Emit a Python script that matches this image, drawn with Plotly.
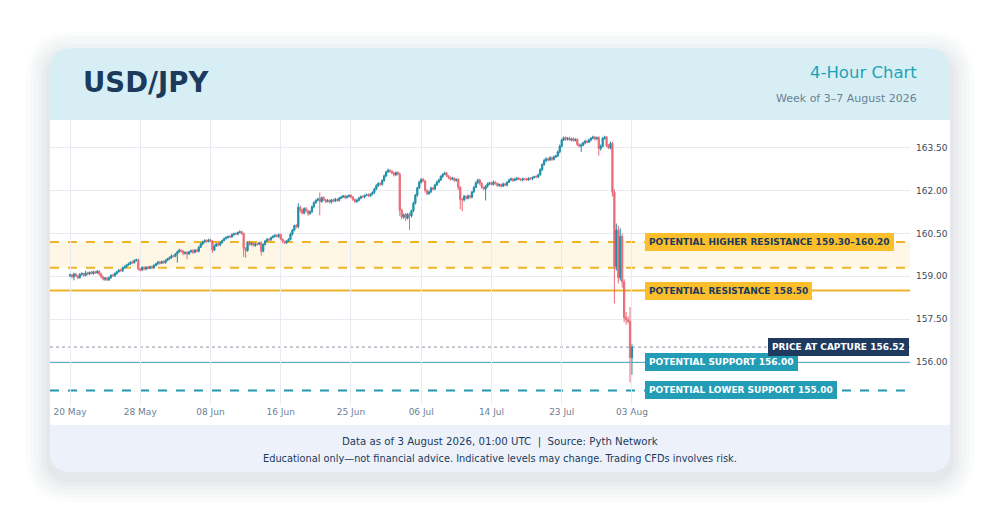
import plotly.graph_objects as go

# ---- data ----
tick_pos = [0, 36, 72, 108, 144, 180, 216, 252, 288]
tick_labels = ["20 May", "28 May", "08 Jun", "16 Jun", "25 Jun", "06 Jul", "14 Jul", "23 Jul", "03 Aug"]

first_open = 159.02
closes = [
    159.05, 158.98, 159.08, 159.02, 158.95, 159.06, 159.10, 159.03, 159.12, 159.08,
    159.14, 159.10, 159.16, 159.12, 159.18, 159.08, 158.98, 158.90, 158.94, 158.88,
    158.96, 159.04, 159.02, 159.10, 159.16, 159.22, 159.20, 159.30, 159.34, 159.40,
    159.44, 159.50, 159.48, 159.56, 159.58, 159.26, 159.22, 159.30, 159.26, 159.32,
    159.28, 159.34, 159.30, 159.38, 159.44, 159.50, 159.46, 159.52, 159.48, 159.56,
    159.62, 159.66, 159.72, 159.70, 159.78, 159.86, 159.92, 159.88, 159.80, 159.84,
    159.78, 159.86, 159.90, 159.84, 159.92, 159.88, 160.02, 160.14, 160.20, 160.26,
    160.22, 160.28, 160.24, 159.92, 160.06, 160.14, 160.10, 160.18, 160.26, 160.32,
    160.36, 160.40, 160.38, 160.46, 160.50, 160.48, 160.54, 160.56, 160.50, 159.98,
    159.90, 160.20, 160.12, 160.16, 160.08, 160.14, 160.12, 160.18, 159.88, 160.12,
    160.24, 160.30, 160.28, 160.36, 160.40, 160.44, 160.40, 160.46, 160.30, 160.22,
    160.18, 160.24, 160.30, 160.48, 160.62, 160.78, 160.74, 161.42, 161.32, 161.22,
    161.38, 161.30, 161.20, 161.26, 161.44, 161.58, 161.66, 161.72, 161.62, 161.76,
    161.68, 161.62, 161.66, 161.60, 161.68, 161.64, 161.70, 161.66, 161.74, 161.78,
    161.82, 161.76, 161.80, 161.84, 161.78, 161.70, 161.62, 161.66, 161.74, 161.80,
    161.78, 161.84, 161.86, 161.82, 161.88, 161.94, 162.06, 162.18, 162.26, 162.22,
    162.36, 162.52, 162.66, 162.72, 162.68, 162.62, 162.56, 162.64, 162.58, 161.32,
    161.08, 161.16, 161.04, 161.18, 161.12, 161.30, 161.56, 161.84, 162.10, 162.30,
    162.40, 162.34, 162.02, 161.90, 161.96, 162.10, 162.06, 162.20, 162.30, 162.38,
    162.50, 162.58, 162.62, 162.52, 162.46, 162.40, 162.44, 162.36, 162.40, 162.12,
    161.70, 161.68, 161.80, 161.74, 161.82, 161.78, 161.96, 162.12, 162.28, 162.38,
    162.26, 162.12, 162.06, 162.16, 162.24, 162.28, 162.22, 162.30, 162.26, 162.18,
    162.22, 162.16, 162.24, 162.20, 162.30, 162.38, 162.42, 162.36, 162.40, 162.44,
    162.40, 162.38, 162.42, 162.40, 162.38, 162.44, 162.42, 162.46, 162.50, 162.48,
    162.56, 162.74, 162.92, 163.06, 163.12, 163.08, 163.16, 163.10, 163.18, 163.22,
    163.36, 163.56, 163.78, 163.86, 163.80, 163.84, 163.78, 163.82, 163.76, 163.80,
    163.62, 163.56, 163.60, 163.68, 163.74, 163.70, 163.78, 163.84, 163.88, 163.82,
    163.86, 163.48, 163.56, 163.84, 163.88, 163.58, 163.50, 163.66,
]
# wick lengths in pips above / below the candle body
wick_up = [
    4, 3, 5, 4, 3, 6, 4, 3, 8, 4,   3, 5, 4, 3, 4, 3, 5, 4, 3, 4,
    4, 3, 5, 4, 3, 4, 5, 3, 4, 3,   4, 3, 5, 3, 4, 4, 3, 5, 4, 3,
    4, 3, 4, 5, 3, 4, 4, 3, 5, 4,   3, 4, 5, 3, 4, 4, 5, 3, 4, 3,
    4, 3, 4, 5, 3, 4, 4, 3, 5, 4,   3, 4, 4, 3, 5, 3, 4, 4, 3, 4,
    4, 3, 5, 4, 3, 4, 3, 5, 4, 3,   4, 3, 5, 4, 3, 4, 4, 3, 5, 4,
    3, 4, 4, 3, 5, 4, 3, 4, 4, 3,   4, 3, 4, 5, 4, 3, 6, 14, 6, 5,
    4, 5, 3, 6, 4, 5, 4, 3, 22, 4,  4, 3, 5, 4, 3, 4, 5, 3, 4, 4,
    3, 4, 5, 3, 4, 4, 3, 5, 4, 3,   4, 3, 4, 5, 3, 4, 4, 5, 4, 3,
    4, 5, 4, 6, 3, 4, 5, 3, 4, 6,   5, 4, 6, 4, 5, 4, 6, 5, 4, 5,
    4, 5, 4, 3, 5, 4, 3, 4, 5, 4,   4, 3, 5, 4, 3, 4, 5, 4, 3, 5,
    5, 4, 6, 4, 5, 4, 3, 4, 5, 4,   4, 5, 3, 4, 5, 3, 4, 6, 4, 3,
    4, 3, 5, 4, 3, 4, 4, 3, 5, 4,   3, 4, 4, 3, 5, 3, 4, 4, 3, 4,
    4, 5, 4, 6, 5, 4, 5, 4, 6, 4,   5, 6, 5, 4, 5, 4, 6, 4, 5, 4,
    5, 4, 6, 4, 5, 4, 5, 4, 5, 4,   4, 5, 6, 4, 5, 4, 5, 6,
]
wick_dn = [
    4, 5, 12, 4, 5, 3, 4, 5, 3, 4,  4, 3, 5, 4, 3, 6, 5, 4, 6, 5,
    4, 5, 3, 4, 5, 3, 4, 5, 3, 4,   3, 4, 5, 3, 4, 6, 5, 3, 4, 5,
    4, 3, 5, 4, 3, 4, 5, 3, 4, 4,   3, 4, 5, 4, 3, 30, 4, 5, 6, 4,
    18, 3, 4, 5, 3, 4, 4, 3, 5, 4,  4, 3, 5, 10, 4, 3, 5, 4, 3, 4,
    3, 4, 4, 3, 5, 3, 4, 3, 5, 30,  25, 4, 5, 4, 3, 5, 4, 3, 15, 4,
    4, 3, 5, 4, 3, 4, 4, 5, 4, 6,   5, 4, 3, 4, 5, 4, 6, 5, 8, 6,
    5, 6, 8, 5, 4, 5, 4, 3, 48, 4,  4, 5, 3, 4, 5, 3, 4, 5, 4, 3,
    4, 5, 3, 4, 5, 6, 4, 5, 3, 4,   4, 5, 3, 4, 3, 4, 5, 4, 5, 4,
    4, 5, 4, 3, 5, 4, 6, 5, 4, 20,  8, 6, 10, 5, 50, 6, 5, 4, 5, 4,
    5, 4, 8, 6, 5, 4, 5, 4, 3, 4,   4, 5, 3, 4, 5, 4, 3, 5, 4, 10,
    35, 40, 6, 5, 4, 6, 5, 4, 3, 4, 6, 5, 4, 40, 5, 4, 3, 4, 5, 4,
    4, 5, 3, 4, 5, 3, 4, 5, 3, 4,   3, 4, 5, 3, 4, 3, 4, 5, 3, 4,
    4, 3, 5, 4, 6, 5, 4, 5, 4, 3,   4, 5, 4, 3, 5, 4, 3, 5, 4, 3,
    5, 4, 20, 4, 5, 4, 3, 5, 4, 6,  5, 25, 8, 4, 5, 6, 4, 5,
]
# the sell-off candles at the end, full OHLC
crash_open = [163.66, 161.95, 159.35, 160.62, 158.95, 160.40, 158.80, 157.55, 157.48, 157.42, 156.15]
crash_high = [163.72, 162.05, 160.85, 160.78, 160.68, 160.50, 158.90, 157.75, 157.60, 157.92, 156.62]
crash_low = [161.80, 158.05, 159.20, 158.75, 158.85, 158.60, 157.40, 157.30, 157.35, 155.28, 155.55]
crash_close = [161.95, 159.35, 160.62, 158.95, 160.40, 158.80, 157.55, 157.48, 157.42, 156.15, 156.52]

higher_res = (159.30, 160.20)
resistance = 158.50
support = 156.00
lower_support = 155.00
capture_price = 156.52

y_ticks = [156.0, 157.5, 159.0, 160.5, 162.0, 163.5]

# ---- build candles ----
opens = [first_open] + closes[:-1]
highs = [max(o, c) + u / 100 for o, c, u in zip(opens, closes, wick_up)]
lows = [min(o, c) - d / 100 for o, c, d in zip(opens, closes, wick_dn)]
opens += crash_open
highs += crash_high
lows += crash_low
closes_all = closes + crash_close
idx = list(range(len(closes_all)))

NAVY = "#1b3a5c"
GOLD = "#f0b429"
TEAL = "#2596b0"
UP = "#1f8fa8"
DOWN = "#ea6b78"
FONT = "DejaVu Sans"

# screen pixel -> paper helpers (plot area sits at 50..910 x 120..405 on screen)
def px(x):
    return (x - 50) / 860

def py(y):
    return (405 - y) / 285

def rrect(x0, y0, x1, y1, rt, rb):
    def P(x, y):
        return f"{px(x):.5f},{py(y):.5f}"
    d = f"M {P(x0 + rt, y0)} L {P(x1 - rt, y0)} Q {P(x1, y0)} {P(x1, y0 + rt)} "
    d += f"L {P(x1, y1 - rb)} Q {P(x1, y1)} {P(x1 - rb, y1)} "
    d += f"L {P(x0 + rb, y1)} Q {P(x0, y1)} {P(x0, y1 - rb)} "
    d += f"L {P(x0, y0 + rt)} Q {P(x0, y0)} {P(x0 + rt, y0)} Z"
    return d

fig = go.Figure()
fig.add_trace(go.Candlestick(
    x=idx, open=opens, high=highs, low=lows, close=closes_all,
    increasing=dict(line=dict(color=UP, width=1), fillcolor=UP),
    decreasing=dict(line=dict(color=DOWN, width=1), fillcolor=DOWN),
    whiskerwidth=0, hoverinfo="skip", showlegend=False,
))

shapes = []
# card shadow
for i, a in enumerate([0.014, 0.016, 0.018, 0.02, 0.022, 0.025]):
    g = 24 - i * 4
    shapes.append(dict(type="path", xref="paper", yref="paper", layer="below",
                       path=rrect(50 - g, 48 - g + 8, 950 + g, 472 + g + 6, 22 + g, 22 + g),
                       fillcolor=f"rgba(30,50,80,{a})", line=dict(width=0)))
shapes.append(dict(type="path", xref="paper", yref="paper", layer="below",
                   path=rrect(50, 48, 950, 472, 22, 22), fillcolor="white", line=dict(width=0)))
shapes.append(dict(type="path", xref="paper", yref="paper", layer="below",
                   path=rrect(50, 48, 950, 120, 22, 0), fillcolor="#d7eff4", line=dict(width=0)))
shapes.append(dict(type="path", xref="paper", yref="paper", layer="below",
                   path=rrect(50, 425, 950, 472, 0, 22), fillcolor="#edf2fa", line=dict(width=0)))
# levels
shapes.append(dict(type="rect", xref="paper", yref="y", x0=0, x1=1, y0=higher_res[0], y1=higher_res[1],
                   fillcolor="rgba(246,196,60,0.13)", line=dict(width=0), layer="below"))
for lv in higher_res:
    shapes.append(dict(type="line", xref="paper", yref="y", x0=0, x1=1, y0=lv, y1=lv,
                       line=dict(color=GOLD, width=2, dash="dash"), layer="below"))
shapes.append(dict(type="line", xref="paper", yref="y", x0=0, x1=1, y0=resistance, y1=resistance,
                   line=dict(color=GOLD, width=2), layer="below"))
shapes.append(dict(type="line", xref="paper", yref="y", x0=0, x1=1, y0=support, y1=support,
                   line=dict(color=TEAL, width=1.5), layer="below"))
shapes.append(dict(type="line", xref="paper", yref="y", x0=0, x1=1, y0=lower_support, y1=lower_support,
                   line=dict(color=TEAL, width=2, dash="dash"), layer="below"))
shapes.append(dict(type="line", xref="paper", yref="y", x0=0, x1=1, y0=capture_price, y1=capture_price,
                   line=dict(color="#8a96a8", width=1, dash="dot"), layer="below"))

LBL_X = 294.5
annotations = []
def level_label(text, y, bg, fg, x=LBL_X, anchor="left"):
    annotations.append(dict(x=x, y=y, xref="x", yref="y", text=f"<b>{text}</b>", showarrow=False,
                            xanchor=anchor, yanchor="middle", bgcolor=bg, bordercolor=bg, borderpad=3,
                            font=dict(family=FONT, size=9, color=fg)))

level_label(f"POTENTIAL HIGHER RESISTANCE {higher_res[0]:.2f}–{higher_res[1]:.2f}", higher_res[1], "#fbbf2c", NAVY)
level_label(f"POTENTIAL RESISTANCE {resistance:.2f}", resistance, "#fbbf2c", NAVY)
level_label(f"POTENTIAL SUPPORT {support:.2f}", support, "#239db6", "white")
level_label(f"POTENTIAL LOWER SUPPORT {lower_support:.2f}", lower_support, "#239db6", "white")
level_label(f"PRICE AT CAPTURE {capture_price:.2f}", capture_price, "#1e3a5f", "white", x=430, anchor="right")

# header and footer texts
annotations += [
    dict(x=px(81), y=py(82), xref="paper", yref="paper", text="<b>USD/JPY</b>", showarrow=False,
         xanchor="left", yanchor="middle", font=dict(family=FONT, size=27.5, color=NAVY)),
    dict(x=px(919), y=py(73), xref="paper", yref="paper", text="4-Hour Chart", showarrow=False,
         xanchor="right", yanchor="middle", font=dict(family=FONT, size=16.5, color="#1aa3b8")),
    dict(x=px(919), y=py(98), xref="paper", yref="paper", text="Week of 3–7 August 2026", showarrow=False,
         xanchor="right", yanchor="middle", font=dict(family=FONT, size=11, color="#6c7f95")),
    dict(x=0.5 * (px(50) + px(950)), y=py(442), xref="paper", yref="paper",
         text="Data as of 3 August 2026, 01:00 UTC  |  Source: Pyth Network", showarrow=False,
         xanchor="center", yanchor="middle", font=dict(family=FONT, size=10.2, color=NAVY)),
    dict(x=0.5 * (px(50) + px(950)), y=py(458), xref="paper", yref="paper",
         text="Educational only—not financial advice. Indicative levels may change. Trading CFDs involves risk.",
         showarrow=False, xanchor="center", yanchor="middle",
         font=dict(family=FONT, size=9.8, color=NAVY)),
]

# the page body adds an 8px offset, so the figure margins are shifted by -8px
fig.update_layout(
    width=1000, height=520,
    margin=dict(l=42, r=98, t=112, b=123),
    paper_bgcolor="white", plot_bgcolor="rgba(0,0,0,0)",
    shapes=shapes, annotations=annotations,
    showlegend=False, hovermode=False,
    boxgap=0.1,
    font=dict(family=FONT),
    xaxis=dict(range=[-10.25, 430.5], tickvals=tick_pos, ticktext=tick_labels,
               showgrid=True, gridcolor="#e8ecf2", gridwidth=1, zeroline=False, showline=False,
               tickfont=dict(size=9, color="#6c7f95"), rangeslider=dict(visible=False), fixedrange=True),
    yaxis=dict(range=[154.49, 164.48], side="right", tickvals=y_ticks,
               ticktext=[f"{v:.2f}" for v in y_ticks], showgrid=True, gridcolor="#e8ecf2",
               zeroline=False, showline=False, tickfont=dict(size=9, color="#3a4a60"),
               ticklabelstandoff=5, fixedrange=True),
)

fig.write_html("out.html")
